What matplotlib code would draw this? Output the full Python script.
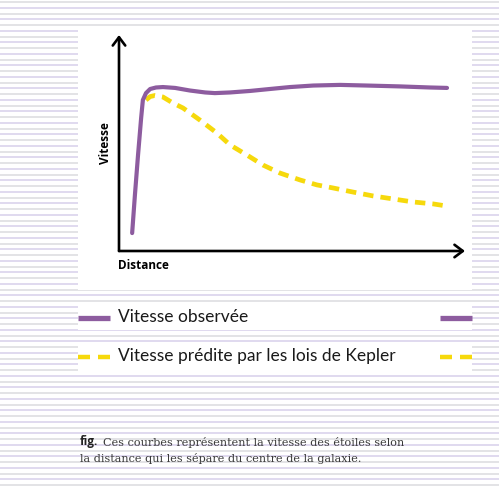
import matplotlib.pyplot as plt
from matplotlib.patches import Rectangle

# values (distance / speed, arbitrary units 0-100)
obs_x = [3.8, 4.6, 5.5, 6.4, 6.9, 7.8, 9.0, 10.7, 12.7, 16.2, 20.5, 24.9, 27.7,
         32.1, 37.9, 43.6, 49.4, 56.1, 63.9, 71.7, 81.2, 89.9, 94.8]
obs_y = [8.3, 25.9, 44.4, 61.6, 69.9, 73.1, 75.0, 75.7, 75.9, 75.5, 74.3, 73.4, 73.1,
         73.4, 74.1, 75.0, 75.9, 76.6, 76.9, 76.6, 76.2, 75.7, 75.5]

kep_x = [7.8, 9.0, 10.4, 12.7, 15.6, 18.5, 23.4, 28.3, 32.1, 37.0, 41.6, 46.5,
         52.3, 57.2, 61.8, 67.6, 73.4, 79.2, 85.0, 90.8, 94.8]
kep_y = [69.9, 71.5, 72.0, 71.3, 68.5, 66.2, 60.6, 54.6, 49.1, 44.4, 39.8, 36.1,
         32.9, 30.6, 29.2, 27.3, 25.5, 24.1, 22.7, 21.8, 20.8]

labels = ['Vitesse observée', 'Vitesse prédite par les lois de Kepler']
caption_1 = 'Ces courbes représentent la vitesse des étoiles selon'
caption_2 = 'la distance qui les sépare du centre de la galaxie.'

PURPLE = '#8d5c9f'
YELLOW = '#f6d90c'
W, H = 499, 487

fig = plt.figure(figsize=(W / 100, H / 100), dpi=100)

# background layer in pixel coordinates
bg = fig.add_axes([0, 0, 1, 1])
bg.set_xlim(0, W)
bg.set_ylim(H, 0)
bg.axis('off')

# horizontal stripes
y = 2.0
i = 0
while y < H:
    col = '#e3e3e6' if i % 2 == 0 else '#e0daef'
    bg.add_patch(Rectangle((0, y - 1.0), W, 2.0, color=col, lw=0, zorder=0))
    y += 5.75
    i += 1

# white panel and legend bands
bg.add_patch(Rectangle((78, 27), 394, 263, color='white', lw=0, zorder=1))
bg.add_patch(Rectangle((78, 302), 394, 28, color='white', lw=0, zorder=1))
bg.add_patch(Rectangle((78, 342), 394, 29, color='white', lw=0, zorder=1))

# legend rows
bg.plot([78, 110], [318, 318], color=PURPLE, lw=3.8, solid_capstyle='butt', zorder=2)
bg.plot([440, 472], [318, 318], color=PURPLE, lw=3.8, solid_capstyle='butt', zorder=2)
for x0 in (78, 98, 440, 460):
    bg.plot([x0, x0 + 12], [357, 357], color=YELLOW, lw=3.2, solid_capstyle='butt', zorder=2)
bg.text(118, 317, labels[0], fontsize=12.5, family='Lato',
        color='#1a1a1a', va='center', ha='left', zorder=3)
bg.text(118, 356, labels[1], fontsize=12.5, family='Lato',
        color='#1a1a1a', va='center', ha='left', zorder=3)

# caption
bg.text(80, 441, 'fig.', fontsize=8.5, family='Open Sans', weight='bold',
        color='#222222', va='center', ha='left', zorder=3)
bg.text(103, 442, caption_1, fontsize=8.1, family='DejaVu Serif', color='#3a3a3a',
        va='center', ha='left', zorder=3)
bg.text(80, 458, caption_2, fontsize=8.1, family='DejaVu Serif', color='#3a3a3a',
        va='center', ha='left', zorder=3)

# chart axes
x0, x1, y0, y1 = 119, 465, 251, 35
ax = fig.add_axes([x0 / W, 1 - y0 / H, (x1 - x0) / W, (y0 - y1) / H])
ax.set_xlim(0, 100)
ax.set_ylim(0, 100)
ax.patch.set_alpha(0)
for s in ax.spines.values():
    s.set_visible(False)
ax.set_xticks([])
ax.set_yticks([])

arrow = dict(arrowstyle='->,head_length=0.6,head_width=0.45', color='black', lw=1.9,
             shrinkA=0, shrinkB=0)
ax.annotate('', xy=(0, 1), xytext=(0, 0), xycoords='axes fraction', arrowprops=arrow)
ax.annotate('', xy=(1, 0), xytext=(0, 0), xycoords='axes fraction', arrowprops=arrow)

ax.plot(kep_x, kep_y, color=YELLOW, lw=3.4, dashes=(2.2, 1.5), dash_capstyle='butt',
        solid_joinstyle='round', zorder=2)
ax.plot(obs_x, obs_y, color=PURPLE, lw=3.0, solid_capstyle='round',
        solid_joinstyle='round', zorder=3)

ax.text(-0.04, 0.5, 'Vitesse', transform=ax.transAxes, rotation=90, fontsize=8.5,
        family='Open Sans', weight='bold', va='center', ha='center')
ax.text(-0.003, -0.065, 'Distance', transform=ax.transAxes, fontsize=8.5,
        family='Open Sans', weight='bold', va='center', ha='left')

fig.savefig('out.png', dpi=100)
